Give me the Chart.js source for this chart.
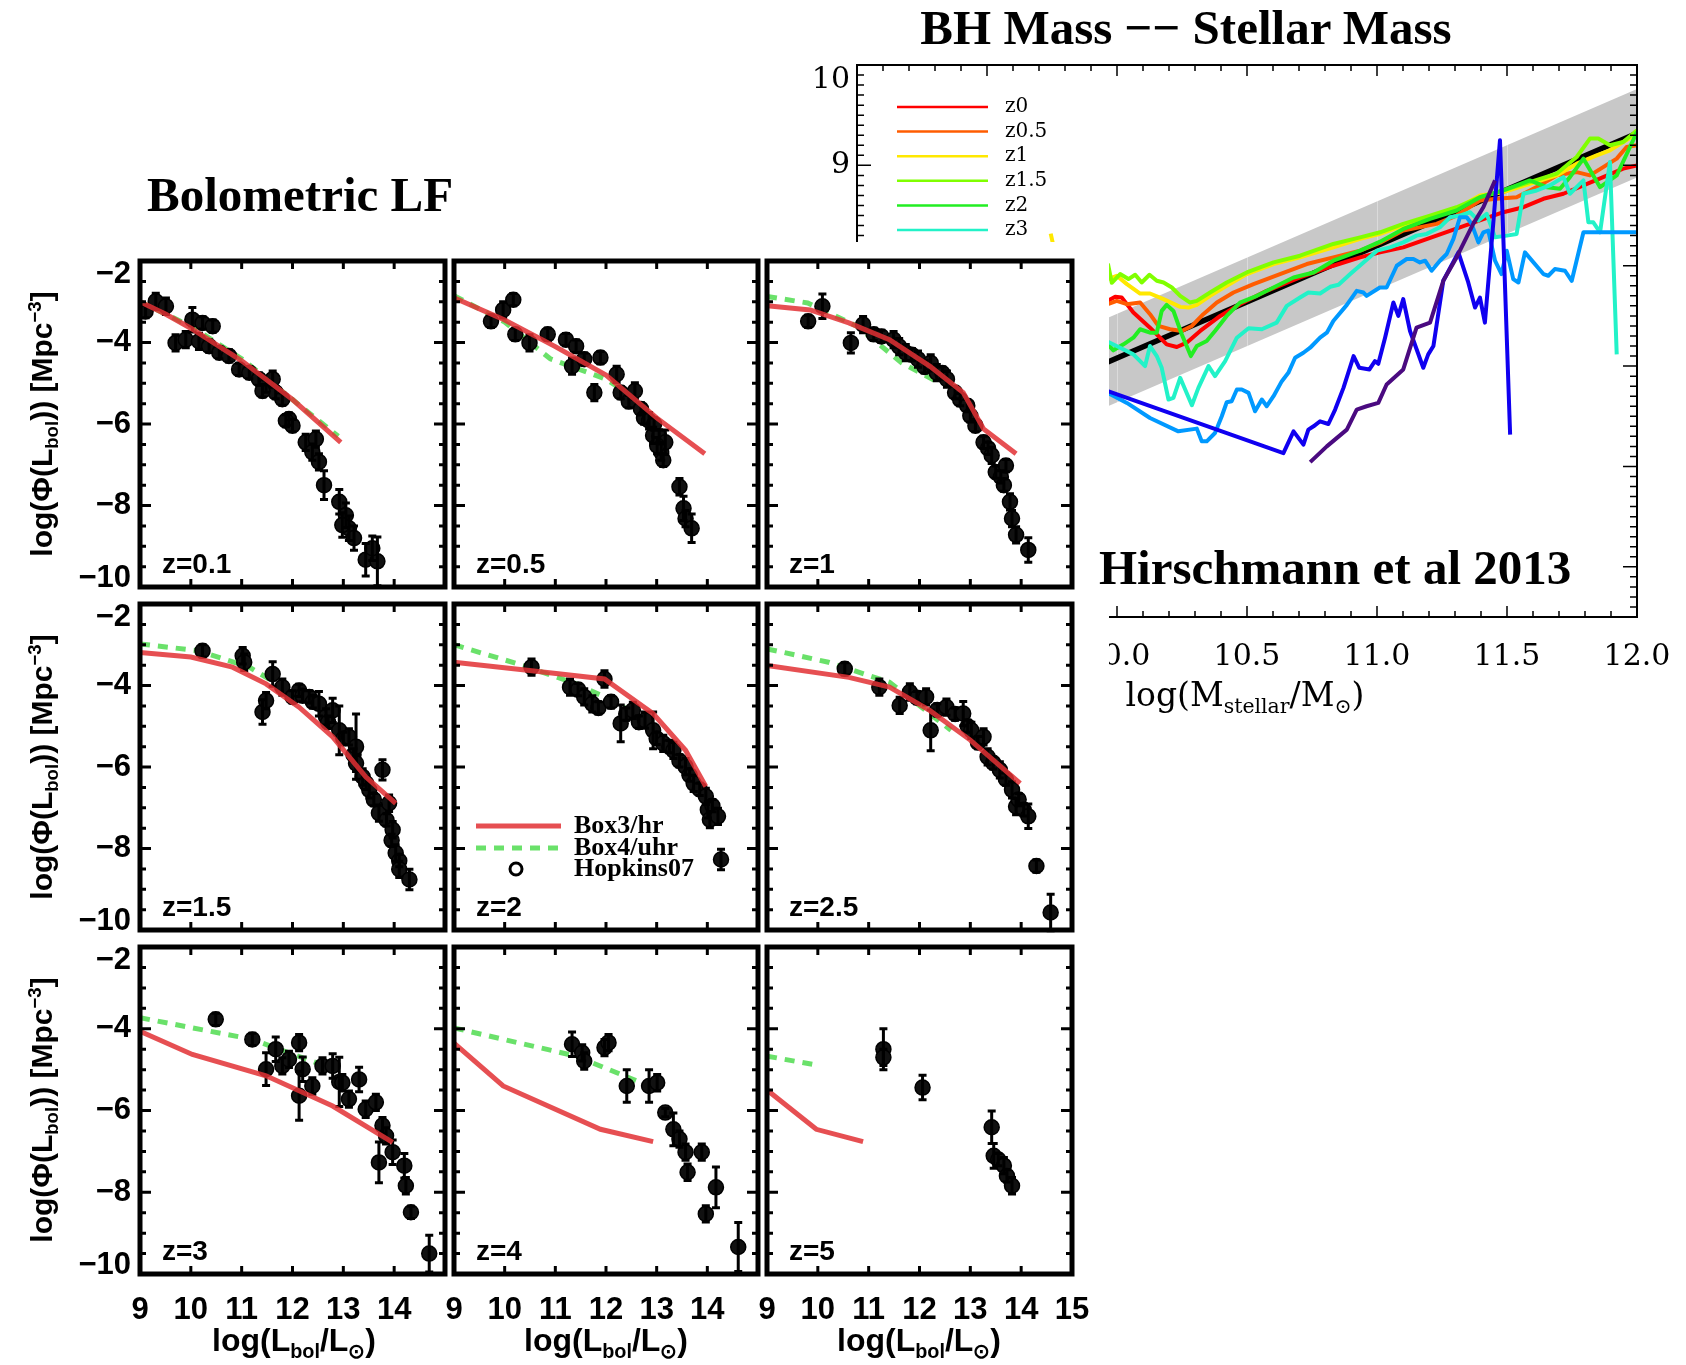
<!DOCTYPE html>
<html lang="en">
<head>
<meta charset="UTF-8">
<title>Bolometric LF / BH Mass -- Stellar Mass</title>
<script src="https://cdn.jsdelivr.net/npm/chart.js"></script>
<style>
    body { margin: 0; background: #fff; }
    #page { position: relative; width: 1686px; height: 1365px; overflow: hidden; background: #fff; }
    canvas { position: absolute; }
    #cover { position: absolute; background: #fff; }
    .txt { position: absolute; white-space: nowrap; color: #000; line-height: 1; }
    .big { font-family: "Liberation Serif", "Times New Roman", serif; font-weight: bold; }
    .lf { font-family: "Liberation Sans", Arial, sans-serif; font-weight: bold; font-size: 32px; transform: translate(-50%, -50%); }
    .rot { transform: translate(-50%, -50%) rotate(-90deg); font-size: 30px; }
    .bhx { font-family: "DejaVu Serif", serif; font-size: 33px; transform: translate(-50%, -50%); }
    sub { font-size: 62%; vertical-align: -0.35em; }
    sup { font-size: 62%; vertical-align: 0.55em; }
</style>
</head>
<body>
<div id="page">
    <canvas id="bh" width="915" height="632" style="left:767px;top:45px"></canvas>
    <div id="cover" style="left:700px;top:242px;width:409px;height:480px"></div>
    <div id="panels"></div>

    <div class="txt big" style="left:147px;top:170px;font-size:49px">Bolometric LF</div>
    <div class="txt big" style="left:1186px;top:3px;font-size:49px;transform:translateX(-50%)">BH Mass &minus;&minus; Stellar Mass</div>
    <div class="txt big" style="left:1099px;top:543px;font-size:49px">Hirschmann et al 2013</div>
    <div class="txt bhx" style="left:1245px;top:697px">log(M<sub>stellar</sub>/M<sub>&#8857;</sub>)</div>

    <div class="txt lf" style="left:294px;top:1343px">log(L<sub>bol</sub>/L<sub>&#8857;</sub>)</div>
    <div class="txt lf" style="left:606px;top:1343px">log(L<sub>bol</sub>/L<sub>&#8857;</sub>)</div>
    <div class="txt lf" style="left:919px;top:1343px">log(L<sub>bol</sub>/L<sub>&#8857;</sub>)</div>
    <div class="txt lf rot" style="left:44px;top:424px">log(&Phi;(L<sub>bol</sub>)) [Mpc<sup>&minus;3</sup>]</div>
    <div class="txt lf rot" style="left:44px;top:767px">log(&Phi;(L<sub>bol</sub>)) [Mpc<sup>&minus;3</sup>]</div>
    <div class="txt lf rot" style="left:44px;top:1110px">log(&Phi;(L<sub>bol</sub>)) [Mpc<sup>&minus;3</sup>]</div>
</div>

<script>
    // ---- Bolometric LF panels: [logL, logPhi, err] for the data, [logL, logPhi] for the models ----
    const z01Pts = [[9.11,-3.24,0.15],[9.31,-2.99,0.2],[9.51,-3.11,0.2],[9.70,-4.01,0.2],[9.90,-3.93,0.2],[10.03,-3.44,0.3],[10.16,-3.97,0.2],[10.23,-3.52,0.15],[10.43,-3.60,0.15],[10.36,-4.09,0.15],[10.56,-4.25,0.15],[10.75,-4.33,0.15],[10.95,-4.66,0.15],[11.15,-4.74,0.15],[11.34,-4.90,0.15],[11.48,-5.07,0.15],[11.67,-5.23,0.15],[11.41,-5.19,0.15],[11.61,-4.90,0.2],[11.80,-5.39,0.15],[11.93,-5.88,0.15],[11.87,-5.92,0.15],[12.0,-6.04,0.15],[12.26,-6.45,0.2],[12.46,-6.37,0.2],[12.39,-6.69,0.2],[12.52,-6.93,0.2],[12.62,-7.50,0.35],[12.92,-7.91,0.3],[13.05,-8.24,0.3],[13.11,-8.56,0.3],[12.98,-8.48,0.3],[13.21,-8.80,0.3],[13.44,-9.33,0.4],[13.67,-9.37,0.6],[13.57,-9.05,0.3]];
    const z01Red = [[9.0,-3.0],[9.5,-3.3],[10.0,-3.65],[11.0,-4.45],[12.0,-5.4],[12.95,-6.45]];
    const z01Green = [[9.0,-3.0],[10.0,-3.6],[11.0,-4.4],[12.0,-5.4],[12.9,-6.3]];

    const z05Pts = [[9.73,-3.48,0.15],[9.97,-3.20,0.2],[10.17,-2.95,0.15],[10.21,-3.80,0.15],[10.49,-4.01,0.2],[10.85,-3.80,0.15],[11.21,-3.93,0.15],[11.41,-4.09,0.15],[11.33,-4.58,0.2],[11.57,-4.41,0.15],[11.89,-4.37,0.15],[11.77,-5.23,0.2],[12.21,-4.78,0.2],[12.29,-5.23,0.15],[12.45,-5.45,0.15],[12.57,-5.19,0.2],[12.69,-5.63,0.15],[12.75,-5.85,0.15],[12.85,-5.92,0.2],[12.93,-6.28,0.2],[12.95,-6.0,0.15],[13.05,-6.3,0.15],[13.09,-6.69,0.2],[13.17,-6.45,0.3],[13.01,-6.53,0.2],[13.13,-6.89,0.15],[13.45,-7.54,0.2],[13.53,-8.07,0.3],[13.57,-8.32,0.2],[13.69,-8.56,0.35]];
    const z05Red = [[9.0,-2.9],[10.0,-3.45],[11.0,-4.1],[12.0,-4.8],[13.0,-5.85],[13.95,-6.73]];
    const z05Green = [[9.0,-2.85],[10.0,-3.5],[10.9,-4.4],[12.0,-4.9],[12.5,-5.3]];

    const z1Pts = [[9.81,-3.48,0.15],[10.09,-3.11,0.3],[10.65,-4.01,0.25],[10.89,-3.56,0.2],[11.1,-3.8,0.15],[11.25,-3.85,0.15],[11.49,-3.93,0.2],[11.6,-4.1,0.2],[11.73,-4.25,0.2],[11.85,-4.3,0.15],[11.97,-4.41,0.2],[12.1,-4.6,0.15],[12.22,-4.50,0.2],[12.34,-4.74,0.2],[12.45,-4.75,0.15],[12.54,-4.90,0.2],[12.70,-5.23,0.15],[12.8,-5.4,0.15],[12.94,-5.55,0.15],[13.0,-5.8,0.15],[13.10,-6.04,0.15],[13.26,-6.45,0.15],[13.35,-6.6,0.15],[13.42,-6.77,0.2],[13.50,-7.18,0.15],[13.6,-7.3,0.15],[13.66,-7.50,0.15],[13.70,-7.02,0.15],[13.78,-7.91,0.2],[13.82,-8.32,0.2],[13.90,-8.72,0.2],[14.14,-9.09,0.3]];
    const z1Red = [[9.0,-3.1],[9.85,-3.2],[10.61,-3.52],[11.41,-3.93],[12.2,-4.58],[12.86,-5.23],[13.26,-6.12],[13.9,-6.73]];
    const z1Green = [[9.0,-2.87],[9.8,-3.03],[10.77,-3.6],[11.65,-4.5],[12.4,-5.0]];

    const z15Pts = [[10.23,-3.15,0.15],[11.02,-3.27,0.2],[11.05,-3.43,0.2],[11.41,-4.65,0.3],[11.48,-4.37,0.2],[11.61,-3.72,0.3],[11.80,-4.04,0.2],[12.0,-4.28,0.15],[12.13,-4.12,0.15],[12.2,-4.25,0.15],[12.33,-4.28,0.15],[12.4,-4.4,0.15],[12.52,-4.45,0.3],[12.66,-4.77,0.2],[12.7,-4.9,0.15],[12.79,-4.61,0.3],[12.92,-5.10,0.6],[13.0,-5.3,0.15],[13.11,-5.26,0.2],[13.2,-5.7,0.15],[13.25,-5.50,0.8],[13.25,-5.91,0.2],[13.38,-6.24,0.2],[13.45,-6.4,0.15],[13.51,-6.56,0.2],[13.6,-6.8,0.15],[13.77,-6.07,0.25],[13.70,-7.13,0.2],[13.85,-7.3,0.15],[13.90,-6.89,0.2],[13.95,-7.8,0.15],[13.97,-7.54,0.2],[14.03,-8.11,0.2],[14.1,-8.3,0.15],[14.10,-8.51,0.2],[14.30,-8.76,0.25]];
    const z15Red = [[9.0,-3.19],[10.0,-3.3],[10.82,-3.55],[11.48,-3.96],[12.13,-4.53],[12.79,-5.26],[13.44,-6.24],[14.03,-6.89]];
    const z15Green = [[9.0,-2.98],[10.16,-3.15],[11.15,-3.55],[11.8,-4.04],[12.4,-4.5]];

    const z2Pts = [[10.53,-3.55,0.2],[11.29,-4.04,0.2],[11.45,-4.1,0.15],[11.57,-4.28,0.2],[11.73,-4.45,0.2],[11.85,-4.55,0.15],[11.97,-3.84,0.2],[12.1,-4.4,0.15],[12.29,-4.93,0.45],[12.4,-4.7,0.15],[12.53,-4.61,0.2],[12.65,-4.9,0.15],[12.77,-4.85,0.2],[12.93,-5.10,0.45],[13.0,-5.3,0.15],[13.13,-5.42,0.2],[13.25,-5.5,0.15],[13.33,-5.59,0.2],[13.45,-5.85,0.15],[13.57,-5.99,0.2],[13.65,-6.2,0.15],[13.73,-6.40,0.2],[13.85,-6.55,0.15],[13.97,-6.72,0.2],[14.01,-7.05,0.2],[14.05,-7.29,0.2],[14.1,-6.95,0.15],[14.21,-7.21,0.2],[14.27,-8.27,0.25]];
    const z2Red = [[9.0,-3.43],[10.49,-3.63],[11.97,-3.84],[12.93,-4.69],[13.57,-5.59],[13.97,-6.48]];
    const z2Green = [[9.0,-3.0],[10.37,-3.51],[11.41,-3.96],[11.97,-4.28],[12.6,-4.7]];

    const z25Pts = [[10.53,-3.59,0.15],[11.21,-4.04,0.2],[11.61,-4.49,0.2],[11.81,-4.16,0.2],[11.95,-4.3,0.15],[12.13,-4.28,0.2],[12.22,-5.10,0.5],[12.35,-4.6,0.15],[12.53,-4.53,0.2],[12.7,-4.7,0.15],[12.86,-4.69,0.3],[12.95,-5.0,0.15],[13.02,-5.10,0.2],[13.15,-5.4,0.15],[13.26,-5.26,0.2],[13.34,-5.75,0.2],[13.45,-5.9,0.15],[13.58,-6.07,0.2],[13.7,-6.3,0.15],[13.82,-6.56,0.2],[13.9,-6.97,0.2],[13.95,-6.8,0.15],[14.05,-7.05,0.15],[14.14,-7.21,0.3],[14.3,-8.43,0.15],[14.58,-9.57,0.45]];
    const z25Red = [[9.0,-3.51],[10.61,-3.80],[11.41,-4.04],[12.2,-4.61],[13.0,-5.34],[13.98,-6.4]];
    const z25Green = [[9.0,-3.1],[10.21,-3.43],[11.41,-3.92],[12.62,-5.1]];

    const z3Pts = [[10.49,-3.77,0.15],[11.21,-4.26,0.15],[11.48,-4.99,0.4],[11.67,-4.50,0.3],[11.80,-4.91,0.2],[11.93,-4.75,0.2],[12.13,-4.34,0.2],[12.13,-5.64,0.6],[12.20,-4.99,0.3],[12.39,-5.40,0.2],[12.59,-4.91,0.2],[12.79,-4.91,0.3],[12.92,-5.3,0.6],[12.98,-5.32,0.2],[13.11,-5.72,0.2],[13.31,-5.24,0.3],[13.44,-5.97,0.2],[13.64,-5.80,0.2],[13.77,-6.37,0.2],[13.84,-6.62,0.2],[13.70,-7.27,0.5],[13.97,-7.02,0.3],[14.20,-7.35,0.3],[14.23,-7.84,0.2],[14.33,-8.49,0.15],[14.69,-9.50,0.45]];
    const z3Red = [[9.0,-4.06],[10.03,-4.63],[11.48,-5.15],[12.79,-5.89],[13.97,-6.78]];
    const z3Green = [[9.0,-3.73],[11.21,-4.26],[12.46,-4.83],[12.79,-4.99]];

    const z4Pts = [[11.33,-4.38,0.3],[11.53,-4.59,0.2],[11.57,-4.79,0.2],[11.97,-4.46,0.2],[12.05,-4.34,0.2],[12.41,-5.40,0.4],[12.85,-5.40,0.4],[13.01,-5.32,0.2],[13.17,-6.05,0.1],[13.33,-6.46,0.4],[13.45,-6.70,0.2],[13.57,-7.02,0.2],[13.61,-7.51,0.2],[13.89,-7.02,0.2],[13.97,-8.53,0.2],[14.17,-7.88,0.5],[14.61,-9.34,0.6]];
    const z4Red = [[9.0,-4.35],[9.97,-5.40],[11.89,-6.46],[12.93,-6.76]];
    const z4Green = [[9.0,-3.98],[11.41,-4.67],[12.85,-5.40]];

    const z5Pts = [[11.29,-4.5,0.5],[11.29,-4.7,0.2],[12.06,-5.44,0.3],[13.42,-6.41,0.4],[13.46,-7.11,0.3],[13.55,-7.2,0.15],[13.66,-7.35,0.2],[13.72,-7.6,0.15],[13.82,-7.84,0.2]];
    const z5Red = [[9.0,-5.5],[9.97,-6.46],[10.89,-6.76]];
    const z5Green = [[9.0,-4.67],[9.89,-4.87]];

    const lfLabels = ['z=0.1', 'z=0.5', 'z=1', 'z=1.5', 'z=2', 'z=2.5', 'z=3', 'z=4', 'z=5'];
    const lfPts = [z01Pts, z05Pts, z1Pts, z15Pts, z2Pts, z25Pts, z3Pts, z4Pts, z5Pts];
    const lfRed = [z01Red, z05Red, z1Red, z15Red, z2Red, z25Red, z3Red, z4Red, z5Red];
    const lfGreen = [z01Green, z05Green, z1Green, z15Green, z2Green, z25Green, z3Green, z4Green, z5Green];
    const lfXTicks = [9, 10, 11, 12, 13, 14, 15];
    const lfYTicks = [-2, -4, -6, -8, -10];

    // ---- BH mass -- stellar mass: [log Mstar, log Mbh] ----
    const fitLine = [[9.0, 5.96], [12.0, 9.32]];
    const bandLow = [[9.0, 5.52], [12.0, 8.88]];
    const bandHigh = [[9.0, 6.40], [12.0, 9.76]];
    const z0Line = [[9.965,7.65],[9.993,7.69],[10.018,7.683],[10.063,7.533],[10.127,7.383],[10.191,7.217],[10.23,7.19],[10.268,7.233],[10.32,7.35],[10.397,7.50],[10.473,7.617],[10.576,7.75],[10.704,7.883],[10.832,8.0],[10.935,8.083],[11.012,8.133],[11.101,8.183],[11.229,8.30],[11.357,8.417],[11.486,8.533],[11.563,8.583],[11.64,8.667],[11.717,8.717],[11.794,8.80],[11.87,8.883],[11.947,8.967],[12.0,9.0]];
    const z05Line = [[9.965,7.617],[9.999,7.65],[10.038,7.617],[10.089,7.633],[10.127,7.517],[10.159,7.40],[10.204,7.367],[10.249,7.35],[10.288,7.40],[10.332,7.517],[10.384,7.633],[10.448,7.733],[10.525,7.817],[10.627,7.917],[10.73,8.017],[10.832,8.083],[10.935,8.15],[11.012,8.23],[11.101,8.35],[11.229,8.417],[11.306,8.50],[11.396,8.65],[11.46,8.667],[11.537,8.683],[11.614,8.783],[11.691,8.90],[11.768,8.933],[11.819,8.90],[11.87,8.983],[11.922,9.067],[11.96,9.183],[12.0,9.2]];
    const z1Line = [[9.745,8.32],[9.757,8.18],[9.965,7.867],[9.999,7.90],[10.038,7.817],[10.089,7.723],[10.127,7.723],[10.179,7.667],[10.243,7.59],[10.275,7.583],[10.307,7.61],[10.358,7.70],[10.422,7.80],[10.499,7.917],[10.602,8.017],[10.704,8.083],[10.832,8.183],[10.935,8.267],[11.012,8.317],[11.101,8.40],[11.204,8.483],[11.306,8.567],[11.396,8.70],[11.486,8.733],[11.588,8.817],[11.691,8.90],[11.768,9.017],[11.845,9.10],[11.896,9.15],[11.947,9.233],[12.0,9.317]];
    const z15Line = [[9.965,8.02],[9.98,7.83],[10.012,7.917],[10.044,7.867],[10.07,7.91],[10.095,7.833],[10.125,7.91],[10.153,7.85],[10.179,7.833],[10.211,7.783],[10.243,7.70],[10.281,7.633],[10.307,7.65],[10.358,7.733],[10.422,7.833],[10.499,7.933],[10.602,8.033],[10.704,8.10],[10.832,8.217],[10.935,8.283],[11.012,8.333],[11.101,8.417],[11.204,8.50],[11.306,8.583],[11.396,8.683],[11.486,8.75],[11.588,8.833],[11.691,8.917],[11.768,9.083],[11.819,9.267],[11.851,9.267],[11.896,9.2],[11.947,9.233],[12.0,9.35]];
    const z2Line = [[9.965,7.217],[9.986,7.157],[10.025,7.217],[10.063,7.283],[10.089,7.367],[10.127,7.333],[10.153,7.333],[10.172,7.55],[10.191,7.61],[10.217,7.55],[10.249,7.317],[10.284,7.10],[10.307,7.20],[10.345,7.25],[10.377,7.35],[10.422,7.50],[10.473,7.633],[10.538,7.70],[10.602,7.783],[10.679,7.883],[10.756,7.933],[10.832,8.05],[10.935,8.15],[11.012,8.24],[11.101,8.367],[11.204,8.467],[11.306,8.55],[11.396,8.683],[11.486,8.75],[11.588,8.85],[11.653,8.783],[11.704,8.767],[11.742,8.883],[11.794,9.067],[11.858,8.783],[11.922,8.90],[11.973,9.183],[12.0,9.333]];
    const z3Line = [[9.965,7.243],[10.012,7.183],[10.063,7.117],[10.108,7.0],[10.127,7.20],[10.153,7.10],[10.172,6.983],[10.198,6.667],[10.217,6.683],[10.243,6.883],[10.288,6.61],[10.313,6.783],[10.352,7.0],[10.377,6.90],[10.416,7.05],[10.461,7.283],[10.506,7.377],[10.557,7.367],[10.614,7.433],[10.653,7.60],[10.704,7.683],[10.736,7.733],[10.781,7.723],[10.82,7.79],[10.852,7.81],[10.897,7.917],[10.948,8.033],[11.0,8.15],[11.05,8.183],[11.101,8.233],[11.152,8.30],[11.191,8.317],[11.242,8.383],[11.281,8.483],[11.319,8.50],[11.358,8.533],[11.39,8.45],[11.422,8.517],[11.454,8.283],[11.499,8.30],[11.537,8.317],[11.563,8.717],[11.614,8.75],[11.665,8.80],[11.717,8.883],[11.742,8.717],[11.794,8.85],[11.813,8.433],[11.832,8.433],[11.858,8.333],[11.896,9.033],[11.922,7.117]];
    const z4Line = [[9.965,6.733],[10.038,6.633],[10.127,6.483],[10.236,6.35],[10.307,6.377],[10.326,6.25],[10.345,6.25],[10.377,6.333],[10.403,6.50],[10.422,6.64],[10.441,6.65],[10.461,6.767],[10.48,6.767],[10.506,6.733],[10.531,6.55],[10.557,6.667],[10.576,6.60],[10.602,6.70],[10.634,6.85],[10.659,6.933],[10.685,7.083],[10.717,7.133],[10.743,7.183],[10.781,7.283],[10.807,7.333],[10.832,7.45],[10.884,7.61],[10.922,7.75],[10.948,7.733],[10.96,7.70],[11.011,7.783],[11.037,7.783],[11.076,8.0],[11.114,8.067],[11.14,8.067],[11.165,8.033],[11.185,8.05],[11.21,7.95],[11.242,8.05],[11.268,8.117],[11.294,8.267],[11.319,8.483],[11.345,8.483],[11.364,8.417],[11.39,8.233],[11.409,8.333],[11.428,8.35],[11.454,8.05],[11.479,7.917],[11.499,8.15],[11.524,7.867],[11.544,7.833],[11.569,8.133],[11.64,7.917],[11.659,7.90],[11.684,7.967],[11.723,7.95],[11.749,7.85],[11.794,8.333],[12.0,8.333]];
    const z5Line = [[9.965,6.75],[10.64,6.133],[10.679,6.35],[10.717,6.217],[10.736,6.367],[10.756,6.40],[10.781,6.45],[10.813,6.423],[10.839,6.567],[10.871,6.783],[10.91,7.10],[10.932,6.983],[10.971,6.967],[10.992,7.05],[11.005,7.023],[11.031,7.283],[11.063,7.633],[11.082,7.50],[11.101,7.667],[11.127,7.35],[11.178,6.983],[11.197,7.117],[11.217,7.20],[11.255,7.85],[11.313,8.133],[11.351,7.833],[11.377,7.583],[11.396,7.683],[11.415,7.433],[11.447,8.417],[11.473,9.25],[11.512,6.317]];
    const z6Line = [[10.743,6.043],[10.807,6.20],[10.884,6.367],[10.922,6.567],[10.96,6.60],[11.005,6.633],[11.037,6.817],[11.101,6.967],[11.152,7.383],[11.204,7.433],[11.255,7.85],[11.306,8.083],[11.37,8.417],[11.409,8.583],[11.454,8.85]];

    const bhLabels = ['z0', 'z0.5', 'z1', 'z1.5', 'z2', 'z3', 'z4', 'z5', 'z6'];
    const bhLines = [z0Line, z05Line, z1Line, z15Line, z2Line, z3Line, z4Line, z5Line, z6Line];
    const bhColors = ['#ff0000', '#ff5c00', '#ffe800', '#80ff00', '#22ee22', '#22f2c8', '#0099ff', '#1000f0', '#4a0a80'];

    const xy = arr => arr.map(p => ({x: p[0], y: p[1]}));
    const tickFont = {family: 'Liberation Sans', weight: 'bold', size: 31};

    // frame, inward ticks, y labels, error bars, panel label and legend for the LF panels
    const lfPlugin = {
        id: 'lfFrame',
        afterDatasetDraw(chart, args, opts) {
            if (args.index !== 1) return;
            const {ctx, scales: {x, y}} = chart;
            ctx.save();
            ctx.strokeStyle = '#000';
            ctx.lineWidth = 3;
            opts.pts.forEach(p => {
                const px = x.getPixelForValue(p[0]);
                const y1 = y.getPixelForValue(p[1] + p[2]);
                const y2 = y.getPixelForValue(p[1] - p[2]);
                ctx.beginPath();
                ctx.moveTo(px, y1); ctx.lineTo(px, y2);
                ctx.moveTo(px - 4, y1); ctx.lineTo(px + 4, y1);
                ctx.moveTo(px - 4, y2); ctx.lineTo(px + 4, y2);
                ctx.stroke();
            });
            ctx.restore();
        },
        afterDraw(chart, args, opts) {
            const {ctx, chartArea: a, scales: {x, y}} = chart;
            ctx.save();
            ctx.strokeStyle = '#000';
            ctx.fillStyle = '#000';
            ctx.lineWidth = 3;
            ctx.beginPath();
            for (let v = -10; v <= -2; v += 0.5) {
                const py = y.getPixelForValue(v);
                const len = (v % 2 === 0) ? 11 : 6;
                ctx.moveTo(a.left, py); ctx.lineTo(a.left + len, py);
                ctx.moveTo(a.right, py); ctx.lineTo(a.right - len, py);
            }
            for (let v = 10; v <= 14; v++) {
                const px = x.getPixelForValue(v);
                ctx.moveTo(px, a.top); ctx.lineTo(px, a.top + 8);
                ctx.moveTo(px, a.bottom); ctx.lineTo(px, a.bottom - 8);
            }
            ctx.stroke();
            ctx.lineWidth = 5;
            ctx.strokeRect(a.left, a.top, a.width, a.height);

            // y tick labels, the end ones kept inside the frame height
            if (opts.yLabels) {
                ctx.font = 'bold 31px "Liberation Sans"';
                ctx.textAlign = 'right';
                y.ticks.forEach(t => {
                    const py = y.getPixelForValue(t.value);
                    const txt = '\u2212' + Math.abs(t.value);
                    if (t.value === y.max) { ctx.textBaseline = 'alphabetic'; ctx.fillText(txt, a.left - 9, a.top + 22); }
                    else if (t.value === y.min) { ctx.textBaseline = 'alphabetic'; ctx.fillText(txt, a.left - 9, a.bottom); }
                    else { ctx.textBaseline = 'middle'; ctx.fillText(txt, a.left - 9, py); }
                });
                ctx.textAlign = 'left';
            }

            ctx.font = 'bold 28px "Liberation Sans"';
            ctx.textBaseline = 'alphabetic';
            ctx.fillText(opts.label, a.left + 22, a.bottom - 14);

            if (opts.legend) {
                const lx = a.left + 22, tx = a.left + 120;
                ctx.lineWidth = 5;
                ctx.strokeStyle = 'rgba(226,48,52,0.85)';
                ctx.beginPath(); ctx.moveTo(lx, a.top + 222); ctx.lineTo(lx + 85, a.top + 222); ctx.stroke();
                ctx.strokeStyle = 'rgba(80,220,80,0.85)';
                ctx.setLineDash([10, 8]);
                ctx.beginPath(); ctx.moveTo(lx, a.top + 244); ctx.lineTo(lx + 85, a.top + 244); ctx.stroke();
                ctx.setLineDash([]);
                ctx.strokeStyle = '#000';
                ctx.lineWidth = 3;
                ctx.beginPath(); ctx.arc(lx + 40, a.top + 265, 6, 0, Math.PI * 2); ctx.stroke();
                ctx.font = 'bold 26px "Liberation Serif"';
                ctx.textBaseline = 'middle';
                ctx.fillText('Box3/hr', tx, a.top + 222);
                ctx.fillText('Box4/uhr', tx, a.top + 244);
                ctx.fillText('Hopkins07', tx, a.top + 265);
            }
            ctx.restore();
        }
    };

    const colLeft = [140, 453, 766];
    const rowTop = [260, 603, 946];
    const FW = 306, FH = 328;
    const holder = document.getElementById('panels');

    lfLabels.forEach((label, i) => {
        const col = i % 3, row = Math.floor(i / 3);
        const padL = col === 0 ? 140 : 8;
        const padB = row === 2 ? 70 : 8;
        const padR = col === 2 ? 30 : 8;
        const pad = 8;
        const cv = document.createElement('canvas');
        cv.width = padL + FW + padR;
        cv.height = pad + FH + padB;
        cv.style.left = (colLeft[col] - padL) + 'px';
        cv.style.top = (rowTop[row] - pad) + 'px';
        holder.appendChild(cv);

        new Chart(cv, {
            type: 'scatter',
            data: {
                datasets: [
                    {data: xy(lfRed[i]), showLine: true, borderColor: 'rgba(226,48,52,0.85)', borderWidth: 5, pointRadius: 0},
                    {data: xy(lfPts[i]), showLine: false, pointRadius: 7.5, pointBackgroundColor: '#111', pointBorderColor: '#000', pointBorderWidth: 1.5},
                    {data: xy(lfGreen[i]), showLine: true, borderColor: 'rgba(80,220,80,0.85)', borderWidth: 5, borderDash: [10, 8], pointRadius: 0}
                ]
            },
            options: {
                responsive: false,
                animation: false,
                layout: {padding: {top: pad, right: padR, left: 0, bottom: 0}},
                plugins: {
                    legend: {display: false},
                    tooltip: {enabled: false},
                    lfFrame: {label: label, pts: lfPts[i], legend: i === 4, yLabels: col === 0}
                },
                scales: {
                    x: {
                        type: 'linear', min: 9, max: 15,
                        afterBuildTicks: s => { s.ticks = lfXTicks.map(v => ({value: v})); },
                        ticks: {
                            display: row === 2, autoSkip: false, maxRotation: 0, padding: 10,
                            color: '#000', font: tickFont,
                            callback: v => (v === 15 && col < 2) ? null : String(v)
                        },
                        grid: {display: false}, border: {display: false},
                        afterFit: s => { s.height = padB; s.paddingLeft = 0; s.paddingRight = 0; }
                    },
                    y: {
                        type: 'linear', min: -10, max: -2,
                        afterBuildTicks: s => { s.ticks = lfYTicks.map(v => ({value: v})); },
                        ticks: {display: false},
                        grid: {display: false}, border: {display: false},
                        afterFit: s => { s.width = padL; s.paddingTop = 0; s.paddingBottom = 0; }
                    }
                }
            },
            plugins: [lfPlugin]
        });
    });

    // ---- BH mass chart ----
    const bhPlugin = {
        id: 'bhFrame',
        afterDatasetDraw(chart, args) {
            if (args.index !== 1) return;
            const {ctx, chartArea: a, scales: {x}} = chart;
            ctx.save();
            ctx.strokeStyle = 'rgba(255,255,255,0.35)';
            ctx.lineWidth = 1;
            ctx.beginPath();
            for (let v = 9.5; v < 12; v += 0.5) {
                const px = Math.round(x.getPixelForValue(v)) + 0.5;
                ctx.moveTo(px, a.top); ctx.lineTo(px, a.bottom);
            }
            ctx.stroke();
            ctx.restore();
        },
        afterDatasetsDraw(chart) {
            const {ctx, chartArea: a} = chart;
            ctx.save();
            ctx.font = '20px "DejaVu Serif"';
            ctx.textBaseline = 'middle';
            ctx.fillStyle = '#000';
            ctx.lineWidth = 2.5;
            bhLabels.forEach((lab, i) => {
                const ly = a.top + 42 + i * 24.6;
                ctx.strokeStyle = bhColors[i];
                ctx.beginPath(); ctx.moveTo(a.left + 40, ly); ctx.lineTo(a.left + 131, ly); ctx.stroke();
                ctx.fillText(lab, a.left + 148, ly);
            });
            ctx.restore();
        },
        afterDraw(chart) {
            const {ctx, chartArea: a, scales: {x, y}} = chart;
            ctx.save();
            ctx.strokeStyle = '#000';
            ctx.fillStyle = '#000';
            ctx.lineWidth = 1.5;
            ctx.beginPath();
            for (let k = 0; k <= 30; k++) {
                const px = x.getPixelForValue(9 + k * 0.1);
                const len = (k % 5 === 0) ? 11 : 6;
                ctx.moveTo(px, a.top); ctx.lineTo(px, a.top + len);
                ctx.moveTo(px, a.bottom); ctx.lineTo(px, a.bottom - len);
            }
            for (let k = 0; k <= 55; k++) {
                const py = y.getPixelForValue(4.5 + k * 0.1);
                const len = ((k - 5) % 10 === 0) ? 14 : 7;
                ctx.moveTo(a.left, py); ctx.lineTo(a.left + len, py);
                ctx.moveTo(a.right, py); ctx.lineTo(a.right - len, py);
            }
            ctx.stroke();
            ctx.lineWidth = 2;
            ctx.strokeRect(a.left, a.top, a.width, a.height);

            // y tick labels (the top one sits inside the frame height)
            ctx.font = '30px "DejaVu Serif"';
            ctx.textAlign = 'right';
            y.ticks.forEach(t => {
                if (!Number.isInteger(t.value)) return;
                const py = y.getPixelForValue(t.value);
                if (t.value === y.max) { ctx.textBaseline = 'top'; ctx.fillText(String(t.value), a.left - 7, a.top); }
                else { ctx.textBaseline = 'middle'; ctx.fillText(String(t.value), a.left - 7, py); }
            });
            ctx.restore();
        }
    };

    const bhDatasets = [
        {data: xy(bandLow), showLine: true, borderWidth: 0, pointRadius: 0, fill: false, order: 100},
        {data: xy(bandHigh), showLine: true, borderWidth: 0, pointRadius: 0, fill: '-1', backgroundColor: '#c8c8c8', order: 99},
        {data: xy(fitLine), showLine: true, borderColor: '#000', borderWidth: 5.5, pointRadius: 0, order: 90}
    ];
    bhLines.forEach((line, i) => {
        bhDatasets.push({
            data: xy(line), showLine: true, borderColor: bhColors[i], borderWidth: 4,
            borderJoinStyle: 'round', pointRadius: 0, order: 20 - i
        });
    });

    new Chart(document.getElementById('bh'), {
        type: 'scatter',
        data: {datasets: bhDatasets},
        options: {
            responsive: false,
            animation: false,
            layout: {padding: {top: 20, right: 45, left: 0, bottom: 0}},
            plugins: {legend: {display: false}, tooltip: {enabled: false}},
            scales: {
                x: {
                    type: 'linear', min: 9, max: 12,
                    ticks: {stepSize: 0.5, padding: 14, color: '#000', maxRotation: 0, autoSkip: false,
                        font: {family: 'DejaVu Serif', size: 30}, callback: v => v.toFixed(1)},
                    grid: {display: false}, border: {display: false},
                    afterFit: s => { s.height = 60; s.paddingLeft = 0; s.paddingRight = 0; }
                },
                y: {
                    type: 'linear', min: 4.5, max: 10,
                    ticks: {display: false, stepSize: 1},
                    grid: {display: false}, border: {display: false},
                    afterFit: s => { s.width = 90; s.paddingTop = 0; s.paddingBottom = 0; }
                }
            }
        },
        plugins: [bhPlugin]
    });
</script>
</body>
</html>
